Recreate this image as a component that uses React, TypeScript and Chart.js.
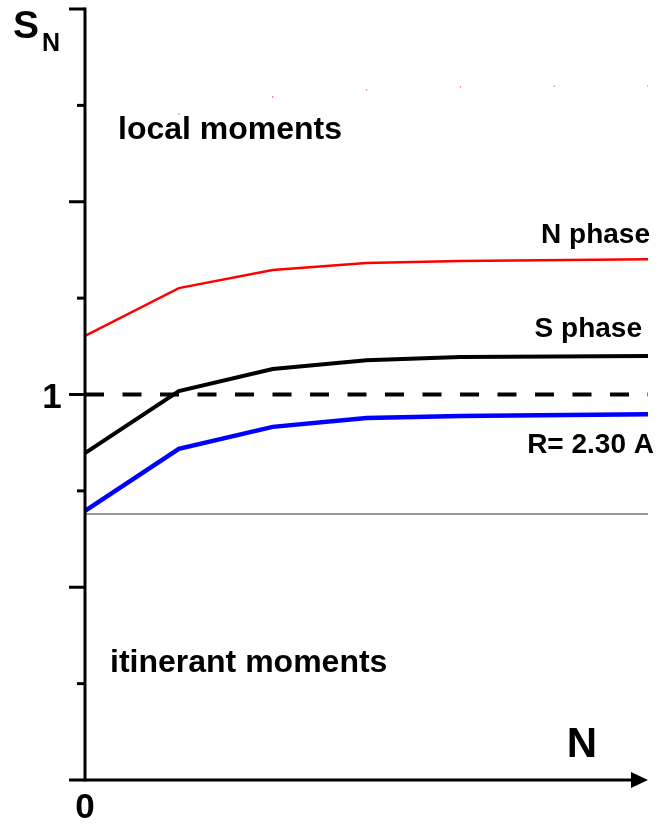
import React, { useEffect, useRef } from "react";
import { Chart, registerables } from "chart.js";

Chart.register(...registerables);

// N values (x axis, arbitrary units)
const nValues = [0, 1, 2, 3, 4, 6];
// S_N for each phase / radius
const nPhase = [1.152, 1.276, 1.323, 1.341, 1.346, 1.351];
const sPhase = [0.848, 1.009, 1.066, 1.089, 1.097, 1.1];
const r230 = [0.698, 0.859, 0.916, 0.939, 0.944, 0.949];
// faint red specks near the top
const speckN = [1, 2, 3, 4, 5, 6];
const speckS = [1.728, 1.772, 1.79, 1.798, 1.8, 1.8];
// reference levels
const unityLevel = 1;
const lowerLevel = 0.69;
// y axis tick marks
const yTicks = [0.25, 0.5, 0.75, 1, 1.25, 1.5, 1.75, 2];
const yMajorTicks = [0.5, 1, 1.5, 2];
const xMin = 0;
const xMax = 6;

const pts = (xs: number[], ys: number[]) => xs.map((x, i) => ({ x, y: ys[i] }));

const FONT = '"Liberation Sans", Arial, Helvetica, sans-serif';

const decorPlugin = {
  id: "decor",
  afterDatasetsDraw(chart: any) {
    const ctx = chart.ctx;
    const xs = chart.scales.x;
    const ys = chart.scales.y;
    const x0 = xs.getPixelForValue(xMin);
    const xEnd = xs.getPixelForValue(xMax);
    const y0 = ys.getPixelForValue(0);
    const yTop = ys.getPixelForValue(2);
    ctx.save();
    ctx.strokeStyle = "#000";
    ctx.fillStyle = "#000";
    ctx.lineWidth = 3;
    ctx.lineCap = "butt";
    // y axis
    ctx.beginPath();
    ctx.moveTo(x0, y0 + 1.5);
    ctx.lineTo(x0, yTop - 1.5);
    ctx.stroke();
    // ticks
    yTicks.forEach((t) => {
      const y = ys.getPixelForValue(t);
      const len = yMajorTicks.includes(t) ? 16 : 8;
      ctx.beginPath();
      ctx.moveTo(x0 - len, y);
      ctx.lineTo(x0, y);
      ctx.stroke();
    });
    // x axis with arrow
    ctx.beginPath();
    ctx.moveTo(x0 - 16, y0);
    ctx.lineTo(xEnd - 14, y0);
    ctx.stroke();
    ctx.beginPath();
    ctx.moveTo(xEnd, y0);
    ctx.lineTo(xEnd - 17, y0 - 8);
    ctx.lineTo(xEnd - 17, y0 + 8);
    ctx.closePath();
    ctx.fill();

    // texts
    ctx.textBaseline = "alphabetic";
    ctx.textAlign = "left";
    ctx.font = `bold 39px ${FONT}`;
    ctx.fillText("S", 13, 38);
    ctx.font = `bold 25px ${FONT}`;
    ctx.fillText("N", 42, 51);

    ctx.font = `bold 35px ${FONT}`;
    ctx.textAlign = "center";
    ctx.fillText("1", 52, ys.getPixelForValue(unityLevel) + 13);
    ctx.fillText("0", x0, 818);
    ctx.font = `bold 42px ${FONT}`;
    ctx.fillText("N", 582, 757);

    ctx.textAlign = "left";
    ctx.font = `bold 32px ${FONT}`;
    ctx.fillText("local moments", 118, 139);
    ctx.fillText("itinerant moments", 110, 672);

    ctx.textAlign = "right";
    ctx.font = `bold 28px ${FONT}`;
    ctx.fillText("N phase", 650, 243);
    ctx.fillText("S phase", 642, 337);
    ctx.fillText("R= 2.30 A", 654, 453);
    ctx.restore();
  },
};

export default function App() {
  const ref = useRef<HTMLCanvasElement>(null);
  useEffect(() => {
    document.body.style.margin = "0";
    const canvas = ref.current!;
    const chart = new Chart(canvas, {
      type: "line",
      data: {
        datasets: [
          {
            label: "lower",
            data: pts([xMin, xMax], [lowerLevel, lowerLevel]),
            borderColor: "#777777",
            borderWidth: 1.5,
            pointRadius: 0,
          },
          {
            label: "unity",
            data: pts([xMin, xMax], [unityLevel, unityLevel]),
            borderColor: "#000000",
            borderWidth: 4,
            borderDash: [19, 18.5],
            pointRadius: 0,
          },
          {
            label: "N phase",
            data: pts(nValues, nPhase),
            borderColor: "#ff0000",
            borderWidth: 2.5,
            pointRadius: 0,
          },
          {
            label: "S phase",
            data: pts(nValues, sPhase),
            borderColor: "#000000",
            borderWidth: 4,
            pointRadius: 0,
          },
          {
            label: "R= 2.30 A",
            data: pts(nValues, r230),
            borderColor: "#0000ff",
            borderWidth: 4.5,
            pointRadius: 0,
          },
          {
            label: "specks",
            data: pts(speckN, speckS),
            borderColor: "rgba(255,0,0,0.6)",
            backgroundColor: "rgba(255,0,0,0.6)",
            showLine: false,
            pointRadius: 0.8,
            pointBorderWidth: 0,
          },
        ],
      },
      options: {
        responsive: false,
        animation: false,
        events: [],
        layout: { padding: { left: 85, right: 11, top: 9, bottom: 45 } },
        plugins: { legend: { display: false }, tooltip: { enabled: false } },
        elements: { line: { tension: 0, borderCapStyle: "butt", borderJoinStyle: "miter" } },
        scales: {
          x: { type: "linear", min: xMin, max: xMax, display: false },
          y: { type: "linear", min: 0, max: 2, display: false },
        },
      },
      plugins: [decorPlugin],
    });
    return () => chart.destroy();
  }, []);
  return (
    <div style={{ width: 659, height: 825, background: "#fff" }}>
      <canvas ref={ref} width={659} height={825} style={{ display: "block" }} />
    </div>
  );
}
